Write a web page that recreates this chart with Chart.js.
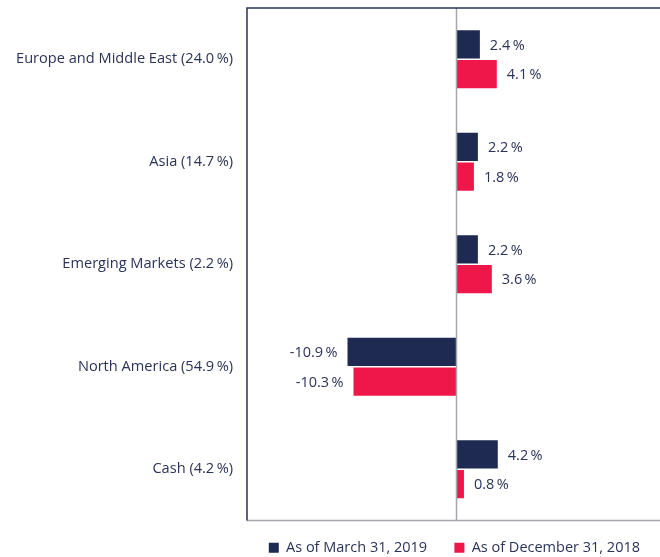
<!DOCTYPE html>
<html><head><meta charset="utf-8">
<script src="https://cdn.jsdelivr.net/npm/chart.js@4/dist/chart.umd.min.js"></script>
<style>html,body{margin:0;padding:0;background:#fff}#wrap{width:660px;height:557px}</style>
</head><body><div id="wrap"><canvas id="c"></canvas></div>
<script>
const categories = ["Europe and Middle East (24.0\u2009%)", "Asia (14.7\u2009%)", "Emerging Markets (2.2\u2009%)", "North America (54.9\u2009%)", "Cash (4.2\u2009%)"];
const seriesNames = ["As of March 31, 2019", "As of December 31, 2018"];
const march2019 = [2.4, 2.2, 2.2, -10.9, 4.2];
const dec2018 = [4.1, 1.8, 3.6, -10.3, 0.8];
const colors = ["#1f2a52", "#ef174a"];
const textColor = "#2b3358";
const FONT = "'Open Sans', sans-serif";

const framePlugin = {
  id: 'frame',
  afterDraw(chart) {
    const {ctx, chartArea: a, scales} = chart;
    const x0 = Math.round(scales.x.getPixelForValue(0)) + 0.5;
    ctx.save();
    ctx.lineWidth = 1.5;
    ctx.strokeStyle = "#a6a6ae";
    ctx.beginPath(); ctx.moveTo(x0, a.top); ctx.lineTo(x0, a.bottom); ctx.stroke();
    ctx.beginPath(); ctx.moveTo(a.left, a.bottom); ctx.lineTo(a.right, a.bottom); ctx.stroke();
    ctx.strokeStyle = "#2b3358";
    ctx.beginPath(); ctx.moveTo(a.left, a.bottom); ctx.lineTo(a.left, a.top); ctx.lineTo(a.right, a.top); ctx.stroke();
    ctx.font = "14.5px " + FONT;
    ctx.fillStyle = textColor;
    ctx.textBaseline = 'middle';
    chart.data.datasets.forEach((ds, di) => {
      const meta = chart.getDatasetMeta(di);
      meta.data.forEach((bar, i) => {
        const v = ds.data[i];
        const txt = v.toFixed(1) + "\u2009%";
        if (v >= 0) { ctx.textAlign = 'left'; ctx.fillText(txt, bar.x + 10, bar.y + 1); }
        else { ctx.textAlign = 'right'; ctx.fillText(txt, bar.x - 10, bar.y + 1); }
      });
    });
    ctx.restore();
  }
};

new Chart(document.getElementById('c'), {
  type: 'bar',
  data: {
    labels: categories,
    datasets: [
      {label: seriesNames[0], data: march2019, backgroundColor: colors[0], categoryPercentage: 0.58, barPercentage: 0.95},
      {label: seriesNames[1], data: dec2018, backgroundColor: colors[1], categoryPercentage: 0.58, barPercentage: 0.95}
    ]
  },
  options: {
    indexAxis: 'y',
    responsive: true,
    maintainAspectRatio: false,
    animation: false,
    layout: {padding: {top: 8, right: 0, left: 0, bottom: -8}},
    scales: {
      x: {min: -21, max: 20.5, display: false, grid: {display: false}},
      y: {
        grid: {display: false, drawTicks: false},
        border: {display: false},
        ticks: {color: textColor, font: {family: FONT, size: 14.6}, padding: 14},
        afterFit(s) { s.width = 247; s.paddingTop = 0; s.paddingBottom = 0; }
      }
    },
    plugins: {
      legend: {
        position: 'bottom',
        fullSize: false,
        align: 'end',
        labels: {
          color: textColor, font: {family: FONT, size: 14.5}, boxWidth: 10, boxHeight: 10, padding: 20,
          generateLabels(chart) {
            const items = Chart.defaults.plugins.legend.labels.generateLabels(chart);
            items.forEach((it, i) => { if (i < items.length - 1) it.text = it.text + "\u2002"; });
            return items;
          }
        }
      },
      tooltip: {enabled: false}
    }
  },
  plugins: [framePlugin]
});
</script></body></html>
